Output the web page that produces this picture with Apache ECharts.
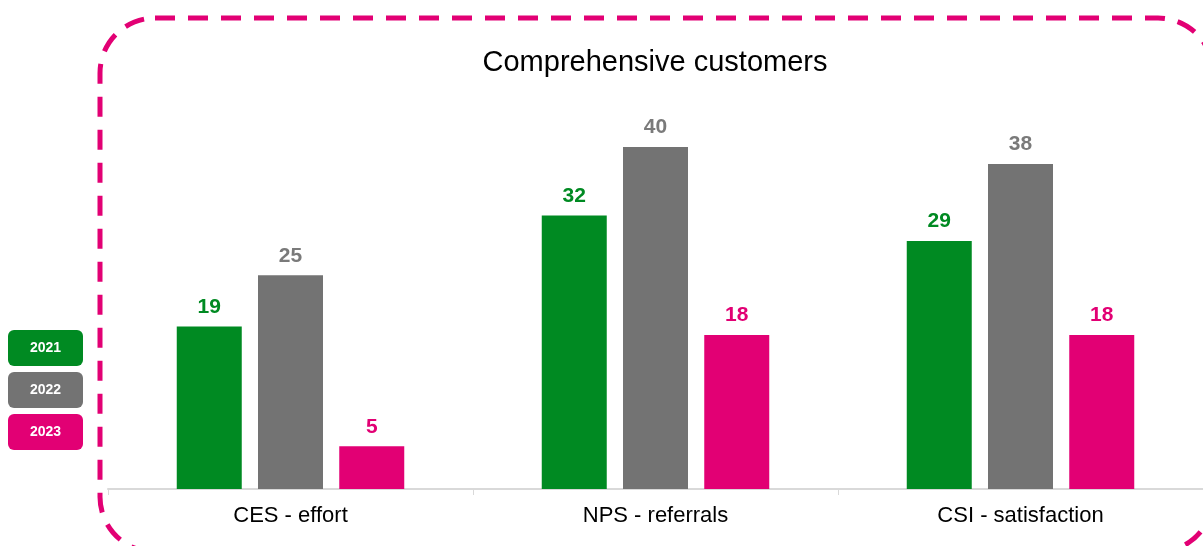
<!DOCTYPE html>
<html>
<head>
<meta charset="utf-8">
<script src="https://cdn.jsdelivr.net/npm/echarts@6/dist/echarts.min.js"></script>
<style>
  html, body { margin: 0; padding: 0; background: #ffffff; }
  #chart { width: 1203px; height: 546px; }
</style>
</head>
<body>
<div id="chart"></div>
<script>
// Survey indices per year
const categories = ['CES - effort', 'NPS - referrals', 'CSI - satisfaction'];
const years = ['2021', '2022', '2023'];
const values2021 = [19, 32, 29];
const values2022 = [25, 40, 38];
const values2023 = [5, 18, 18];
const yearColors = ['#008A22', '#737373', '#E20074'];
const labelColors = ['#008A22', '#7A7A7A', '#E20074'];

const FONT = '"Liberation Sans", Arial, sans-serif';
const seriesValues = [values2021, values2022, values2023];

const chart = echarts.init(document.getElementById('chart'), null, { renderer: 'canvas' });

// Dashed rounded frame around the plot, plus the year badges on the left
const graphics = [{
  type: 'rect',
  silent: true,
  shape: { x: 100, y: 18, width: 1113, height: 534, r: 55 },
  style: { fill: 'none', stroke: '#E20074', lineWidth: 5, lineDash: [20, 13] },
  z: 0
}];
years.forEach((y, i) => {
  graphics.push({
    type: 'group',
    left: 8,
    top: 330 + i * 42,
    children: [
      { type: 'rect', shape: { x: 0, y: 0, width: 75, height: 36, r: 6 }, style: { fill: yearColors[i] } },
      { type: 'text', x: 37.5, y: 18, style: { text: y, fill: '#ffffff', font: 'bold 14px ' + FONT, textAlign: 'center', textVerticalAlign: 'middle' } }
    ]
  });
});

chart.setOption({
  animation: false,
  backgroundColor: '#ffffff',
  title: {
    text: 'Comprehensive customers',
    left: 650,
    textAlign: 'center',
    top: 43,
    textStyle: { fontFamily: FONT, fontSize: 29, fontWeight: 'normal', color: '#000000' }
  },
  grid: { left: 108, right: -1, top: 147, bottom: 57 },
  xAxis: {
    type: 'category',
    data: categories,
    axisLine: { show: true, lineStyle: { color: '#D9D9D9', width: 2 } },
    axisTick: { show: true, length: 6, lineStyle: { color: '#D9D9D9', width: 1 } },
    axisLabel: { fontFamily: FONT, fontSize: 22, color: '#000000', margin: 16 }
  },
  yAxis: {
    type: 'value',
    min: 0,
    max: 40,
    show: false,
    splitLine: { show: false }
  },
  series: seriesValues.map((vals, i) => ({
    name: years[i],
    type: 'bar',
    data: vals,
    barWidth: 65,
    barGap: '25%',
    itemStyle: { color: yearColors[i] },
    label: {
      show: true,
      position: 'top',
      distance: 9,
      fontFamily: FONT,
      fontSize: 21,
      fontWeight: 'bold',
      color: labelColors[i]
    }
  })),
  graphic: graphics
});
</script>
</body>
</html>
